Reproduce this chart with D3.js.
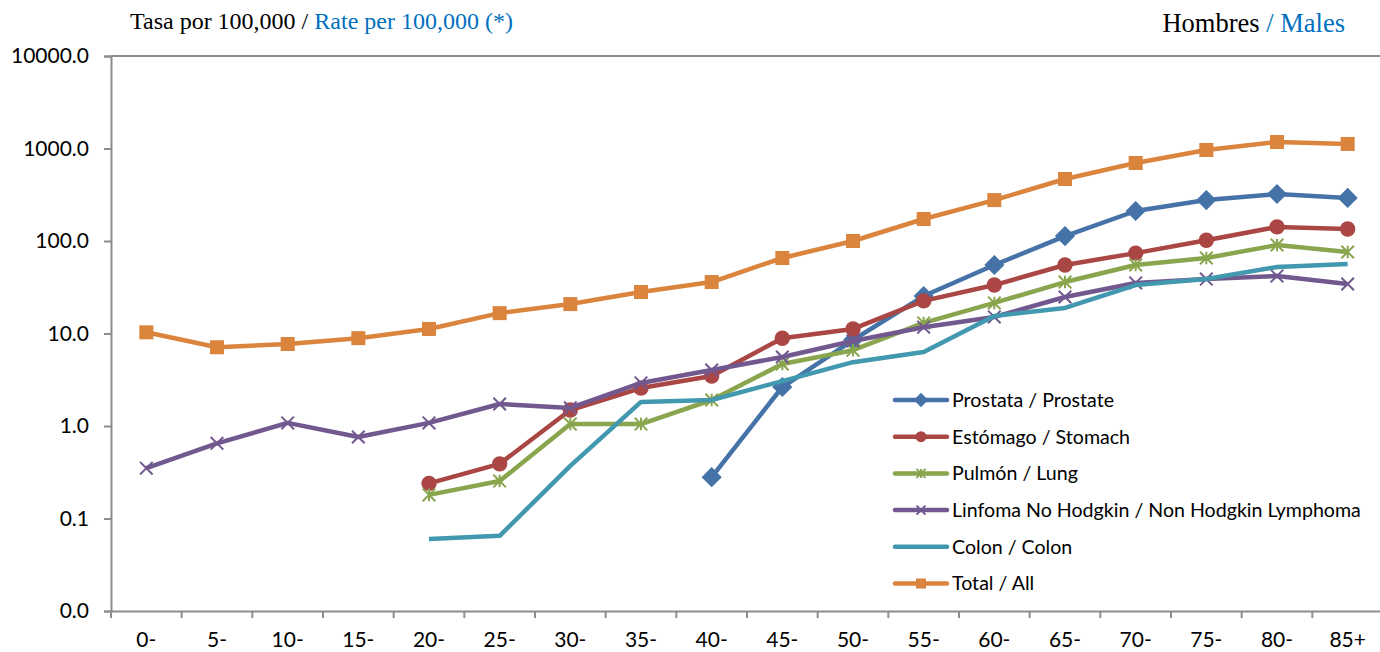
<!DOCTYPE html>
<html><head><meta charset="utf-8">
<script src="https://cdn.jsdelivr.net/npm/d3@7"></script>
<style>body{margin:0;background:#fff}svg{display:block}</style>
</head><body>
<svg id="c" width="1380" height="652"></svg>
<script>
const categories = ["0-","5-","10-","15-","20-","25-","30-","35-","40-","45-","50-","55-","60-","65-","70-","75-","80-","85+"];
const yTicks = [0.01,0.1,1,10,100,1000,10000];
const prostate = [null,null,null,null,null,null,null,null,0.28,2.64,8.5,25.4,55,113,211,277,322,292];
const stomach  = [null,null,null,null,0.24,0.39,1.49,2.57,3.47,8.9,11.2,22.5,33.4,55,74,102,142,135];
const lung     = [null,null,null,null,0.18,0.254,1.05,1.05,1.91,4.68,6.6,13,21.4,36,55,65.5,90.5,76];
const nhl      = [0.35,0.65,1.08,0.76,1.08,1.73,1.57,2.92,4.03,5.57,8.3,11.7,15.1,24.8,35.2,38.8,41.9,34.3];
const colon    = [null,null,null,null,0.06,0.065,0.37,1.82,1.91,3.06,4.9,6.3,15.5,18.9,33.4,38.8,52.4,56.4];
const total    = [10.3,7.1,7.7,8.9,11.2,16.6,20.8,28.1,36,65.5,100,173,277,468,697,964,1175,1120];
const seriesNames = ["Prostata / Prostate","Estómago / Stomach","Pulmón / Lung","Linfoma No Hodgkin / Non Hodgkin Lymphoma","Colon / Colon","Total / All"];

const series = [
  {name:seriesNames[0], values:prostate, color:"#4572A7", marker:"diamond"},
  {name:seriesNames[1], values:stomach,  color:"#AA4643", marker:"circle"},
  {name:seriesNames[2], values:lung,     color:"#89A54E", marker:"star"},
  {name:seriesNames[3], values:nhl,      color:"#71588F", marker:"x"},
  {name:seriesNames[4], values:colon,    color:"#4198AF", marker:"none"},
  {name:seriesNames[5], values:total,    color:"#DB843D", marker:"square"}
];

const svg = d3.select("#c");
const L=111, R=1383, T=56, B=611;
const x = d3.scaleBand().domain(categories).range([L,R]);
const y = d3.scaleLog().domain([0.01,10000]).range([B,T]);
const axisCol = "#8c8c8c";
const labelFont = "Lato, 'Open Sans', sans-serif";
const serif = "'Liberation Serif', 'Times New Roman', serif";

// Titles
const t1 = svg.append("text").attr("x",130).attr("y",29).attr("font-family",serif).attr("font-size",24).attr("fill","#000");
t1.append("tspan").text("Tasa por 100,000 / ");
t1.append("tspan").attr("fill","#0070C0").text("Rate per 100,000 (*)");
const t2 = svg.append("text").attr("x",1345).attr("y",32).attr("text-anchor","end").attr("font-family",serif).attr("font-size",26.5).attr("fill","#000");
t2.append("tspan").text("Hombres ");
t2.append("tspan").attr("fill","#0070C0").text("/ Males");

// Top line
svg.append("line").attr("x1",L).attr("x2",1380).attr("y1",y(10000)).attr("y2",y(10000)).attr("stroke",axisCol).attr("stroke-width",2);

// Y axis
const yAxis = d3.axisLeft(y).tickValues(yTicks).tickFormat(d3.format(".1f")).tickSize(7).tickPadding(15);
const gy = svg.append("g").attr("transform",`translate(${L},0)`).call(yAxis);
gy.select(".domain").attr("stroke",axisCol).attr("stroke-width",2);
gy.selectAll(".tick line").attr("stroke",axisCol).attr("stroke-width",2);
gy.selectAll(".tick text").attr("font-family",labelFont).attr("font-size",21).attr("fill","#000");

// X axis
const xAxis = d3.axisBottom(x).tickSize(0).tickPadding(21);
const gx = svg.append("g").attr("transform",`translate(0,${B})`).call(xAxis);
gx.select(".domain").attr("stroke",axisCol).attr("stroke-width",2);
gx.selectAll(".tick text").attr("font-family",labelFont).attr("font-size",21).attr("fill","#000");
// boundary ticks
const bounds = categories.map(c=>x(c)).concat([R]);
svg.append("g").selectAll("line").data(bounds).join("line")
  .attr("x1",d=>d).attr("x2",d=>d).attr("y1",B).attr("y2",B+7)
  .attr("stroke",axisCol).attr("stroke-width",2);

function drawMarker(g, type, color, cx, cy, s){
  if(type==="diamond"){
    g.append("path").attr("d",`M${cx},${cy-s*0.72}L${cx+s*0.72},${cy}L${cx},${cy+s*0.72}L${cx-s*0.72},${cy}Z`).attr("fill",color);
  } else if(type==="circle"){
    g.append("circle").attr("cx",cx).attr("cy",cy).attr("r",s*0.55).attr("fill",color);
  } else if(type==="square"){
    g.append("rect").attr("x",cx-s*0.5).attr("y",cy-s*0.5).attr("width",s).attr("height",s).attr("fill",color);
  } else if(type==="x"){
    const h=s*0.45;
    g.append("path").attr("d",`M${cx-h},${cy-h}L${cx+h},${cy+h}M${cx-h},${cy+h}L${cx+h},${cy-h}`).attr("stroke",color).attr("stroke-width",2);
  } else if(type==="star"){
    const h=s*0.45;
    g.append("path").attr("d",`M${cx-h},${cy-h}L${cx+h},${cy+h}M${cx-h},${cy+h}L${cx+h},${cy-h}M${cx},${cy-h}L${cx},${cy+h}`).attr("stroke",color).attr("stroke-width",2);
  }
}

const line = d3.line().defined(d=>d.v!=null).x(d=>x(d.c)+x.bandwidth()/2).y(d=>y(d.v));
series.forEach(s=>{
  const pts = categories.map((c,i)=>({c, v:s.values[i]}));
  const g = svg.append("g");
  g.append("path").datum(pts).attr("d",line).attr("fill","none").attr("stroke",s.color).attr("stroke-width",4.5).attr("stroke-linejoin","round");
  pts.filter(p=>p.v!=null).forEach(p=>drawMarker(g, s.marker, s.color, x(p.c)+x.bandwidth()/2, y(p.v), 14));
});

// Legend
const lg = svg.append("g");
series.forEach((s,i)=>{
  const ly = 400 + i*36.7;
  const g = lg.append("g");
  g.append("line").attr("x1",895).attr("x2",947).attr("y1",ly).attr("y2",ly).attr("stroke",s.color).attr("stroke-width",4.5).attr("stroke-linecap","round");
  drawMarker(g, s.marker, s.color, 921, ly, 10);
  g.append("text").attr("x",952).attr("y",ly).attr("dy","0.35em").attr("font-family",labelFont).attr("font-size",19.6).attr("fill","#000").text(s.name);
});
</script>
</body></html>
